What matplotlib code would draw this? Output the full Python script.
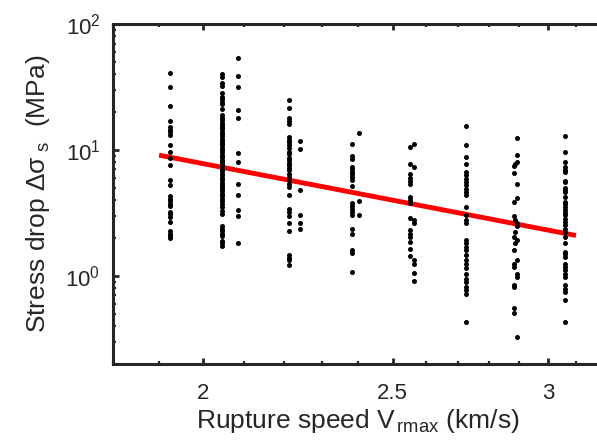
"""Stress drop vs rupture speed (log-log), with power-law fit line."""
import matplotlib
matplotlib.use("Agg")
import matplotlib.pyplot as plt  # noqa: E402
import numpy as np  # noqa: E402
from matplotlib.ticker import FixedLocator, NullFormatter  # noqa: E402

# rupture speed of each column of events (km/s)
vr_cols = [1.924, 2.045, 2.084, 2.214, 2.243, 2.383, 2.403,
           2.551, 2.563, 2.723, 2.882, 2.887, 2.893, 3.062]

# stress drop (MPa) of the events in each column
sd_cols = [
    [40.6, 31.8, 22.5, 16.9, 15.1, 14.5, 13.9, 13.2, 10.9, 9.6, 8.7, 7.6,
     5.75, 5.31, 4.29, 4.11, 3.94, 3.75, 3.57, 3.22, 3.09, 2.94, 2.68,
     2.26, 2.17, 2.07, 1.99],
    [39.9, 37.8, 33.8, 32.0, 28.2, 26.2, 25.3, 23.9, 23.0, 21.0,
     18.8, 18.0, 17.2, 16.5, 15.9, 15.2, 14.6, 14.0, 13.4, 12.9, 12.3,
     11.8, 11.3, 10.9, 10.4, 10.0, 9.6, 9.2, 8.8, 8.4, 8.1, 7.7, 7.4,
     7.1, 6.8, 6.5, 6.3, 6.0, 5.8, 5.5, 5.3, 5.1, 4.9, 4.7, 4.5, 4.3,
     4.1, 3.9, 3.7, 3.5, 3.3, 3.1,
     2.48, 2.38, 2.28, 2.17, 2.07, 1.90, 1.81, 1.72],
    [53.7, 38.5, 31.8, 20.9, 18.1, 9.5, 8.0, 5.41, 4.37, 3.32, 2.98, 1.82],
    [25.1, 21.5, 17.8, 16.9, 16.1, 12.7, 12.1, 11.6, 10.9, 10.3, 9.6,
     9.25, 8.7, 8.3, 7.9, 7.6, 7.25, 6.9, 6.5, 6.1, 5.75, 5.41, 5.08,
     4.37, 3.43, 3.22, 2.98, 2.61, 2.28, 1.46, 1.39, 1.33, 1.23],
    [11.8, 10.1, 4.79, 3.02, 2.61, 2.38],
    [11.2, 8.9, 8.55, 7.3, 7.0, 6.7, 6.4, 6.1, 5.8, 5.15, 3.76, 3.57,
     3.43, 3.22, 3.03, 2.38, 2.17, 1.60, 1.51, 1.08],
    [13.7, 3.94, 3.03],
    [10.6, 7.7, 6.5, 6.04, 5.68, 5.41, 4.24, 3.99, 3.76, 2.91, 2.31,
     2.17, 2.02, 1.86, 1.65, 1.43],
    [11.2, 7.3, 2.80, 2.61, 1.35, 1.25, 1.06, 0.91],
    [15.4, 10.9, 8.8, 7.7, 6.7, 6.3, 5.93, 5.57, 5.24, 4.94, 4.64, 4.37,
     3.53, 3.03, 2.80, 2.63, 1.92, 1.81, 1.70, 1.60, 1.46, 1.35, 1.24,
     1.15, 1.04, 0.95, 0.90, 0.82, 0.77, 0.72, 0.43],
    [6.6, 7.4, 3.87, 2.98, 2.02, 1.60, 1.24, 1.18, 0.85, 0.82, 0.56, 0.51],
    [7.8, 2.80, 2.23, 1.84],
    [12.5, 9.2, 8.0, 5.4, 4.16, 2.63, 2.48, 1.92, 1.35, 1.04, 0.98, 0.33],
    [12.8, 9.6, 8.0, 7.3, 6.9, 6.7, 5.7, 5.6, 5.03, 4.79, 4.64, 4.24,
     3.87, 3.71, 3.53, 3.32, 3.16, 3.03, 2.85, 2.68, 2.53, 2.38, 2.23,
     2.04, 1.83, 1.55, 1.49, 1.42, 1.25, 1.18, 1.11, 1.04, 0.98, 0.84,
     0.79, 0.75, 0.65, 0.43],
]

# power-law fit  sd = fit_c * vr ** fit_b, drawn over fit_range
fit_c = 62.4
fit_b = -3.0
fit_range = [1.9, 3.1]

xticks = [2, 2.5, 3]
xtick_labels = ["2", "2.5", "3"]
xminor = [1.8, 1.9, 2.1, 2.2, 2.3, 2.4, 2.6, 2.7, 2.8, 2.9, 3.1, 3.2]

plt.rcParams["font.family"] = ["Liberation Sans", "DejaVu Sans"]
plt.rcParams["mathtext.fontset"] = "custom"
plt.rcParams["mathtext.rm"] = "Liberation Sans"
plt.rcParams["mathtext.it"] = "Liberation Sans"
gray = "#262626"

fig = plt.figure(figsize=(5.97, 4.45), dpi=100)
ax = fig.add_axes([113 / 597, 81 / 445, 490 / 597, 340 / 445])

fx = np.array(fit_range)
ax.plot(fx, fit_c * fx ** fit_b, color="#ff0000", lw=3.5, zorder=2,
        solid_capstyle="butt")
for v, sd in zip(vr_cols, sd_cols):
    ax.plot(np.full(len(sd), v), sd, "o", color="k", ms=3.6, mew=0,
            zorder=3)

ax.set_xscale("log")
ax.set_yscale("log")
ax.set_xlim(1.8, 3.2)
ax.set_ylim(0.2, 100)

ax.xaxis.set_major_locator(FixedLocator(xticks))
ax.xaxis.set_minor_locator(FixedLocator(xminor))
ax.set_xticklabels(xtick_labels)
ax.xaxis.set_minor_formatter(NullFormatter())
ax.yaxis.set_minor_formatter(NullFormatter())

for s in ax.spines.values():
    s.set_linewidth(2.2)
    s.set_color(gray)
ax.tick_params(which="both", direction="in", top=True, right=True,
               color=gray, labelcolor=gray, labelsize=16)
ax.tick_params(which="major", length=4.5, width=2)
ax.tick_params(which="minor", length=2.5, width=1.6)
ax.tick_params(axis="x", which="major", pad=14)
ax.tick_params(axis="y", which="major", pad=9)

ax.set_xlabel("Rupture speed V$_{\\mathregular{\\,rmax}}$ (km/s)",
              fontsize=19, color=gray, labelpad=2)
ax.set_ylabel("Stress drop Δσ$_{\\mathregular{\\,\\,s}}$  (MPa)",
              fontsize=19, color=gray, labelpad=10)

fig.savefig("out.png", dpi=100)
